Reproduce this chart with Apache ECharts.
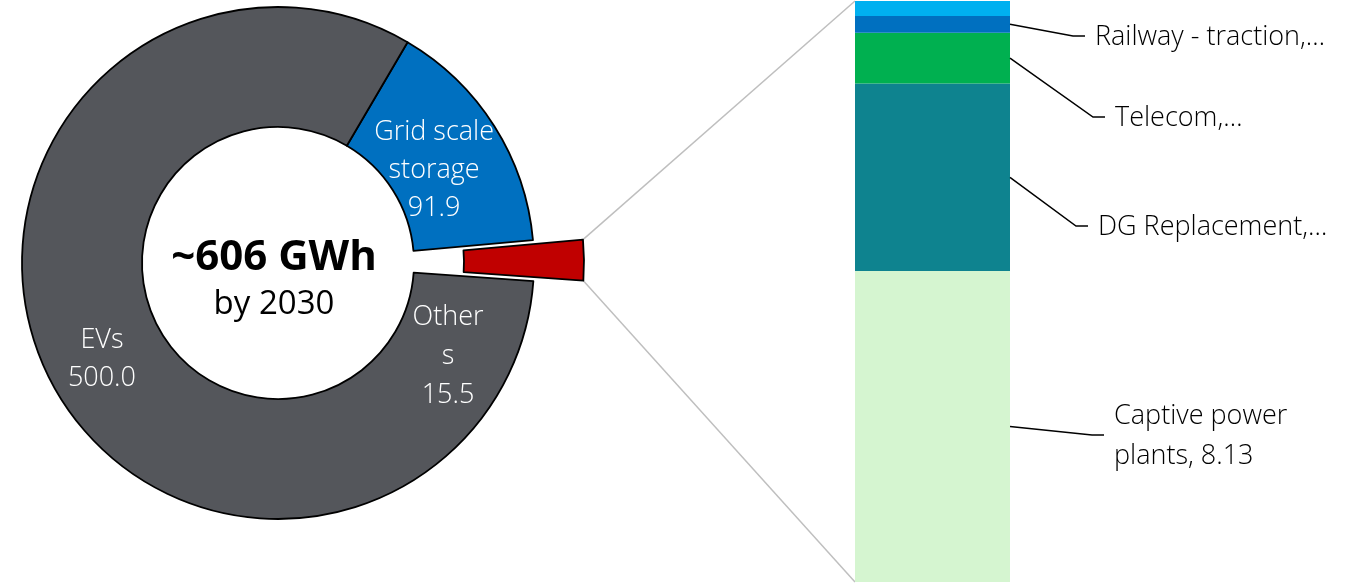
<!DOCTYPE html>
<html>
<head>
<meta charset="utf-8">
<script src="https://cdn.jsdelivr.net/npm/echarts@6/dist/echarts.min.js"></script>
<style>
  html, body { margin: 0; padding: 0; background: #fff; }
  #main { width: 1368px; height: 584px; }
</style>
</head>
<body>
<div id="main"></div>
<script>
// pie: battery demand by 2030 (GWh)
var pieNames = ['Grid scale storage', 'Others', 'EVs'];
var pieLabels = ['Grid scale\nstorage', 'Other\ns', 'EVs'];
var pieValues = [91.9, 15.5, 500.0];
var pieColors = ['#0070C0', '#C00000', '#54565B'];

// bar: breakdown of "Others", listed bottom to top of the stack
var barNames = ['Captive power plants', 'DG Replacement', 'Telecom', 'Railway - traction', 'Other'];
var barLabels = ['Captive power\nplants, 8.13', 'DG Replacement,\u2026', 'Telecom,\u2026', 'Railway - traction,\u2026', ''];
var barValues = [8.13, 4.90, 1.33, 0.44, 0.39];
var barColors = ['#D5F5D0', '#0E838F', '#00B050', '#0070C0', '#00B0F0'];

var FONT = '"Open Sans", "Noto Sans", sans-serif';
var cx = 278, cy = 263, r0 = 136, r1 = 256;
var startFromTop = 30.4;   // degrees clockwise from 12 o'clock
var pullOut = 50;
var gridLeft = 855, gridRight = 358, gridTop = 1, gridBottom = 2;

// label spots next to the bar: [offset from bar right edge, y]
var labelSpots = [[104, 436], [88, 227], [105, 118], [85, 37]];

var chart = echarts.init(document.getElementById('main'));

var pieData = pieNames.map(function (n, i) {
  return {
    name: n,
    value: pieValues[i],
    selected: i === 1,
    label: { show: i !== 1 },
    itemStyle: { color: pieColors[i] },
    select: { itemStyle: { color: pieColors[i], borderColor: '#000', borderWidth: 1.8 } }
  };
});

var barSeries = barNames.map(function (n, i) {
  return {
    name: n,
    type: 'bar',
    stack: 'others',
    barWidth: '100%',
    data: [barValues[i]],
    itemStyle: { color: barColors[i] },
    label: {
      show: barLabels[i] !== '',
      position: 'right',
      formatter: barLabels[i],
      color: '#000',
      fontFamily: FONT,
      fontWeight: 300,
      fontSize: 27,
      lineHeight: 40
    },
    labelLayout: function (p) {
      var s = labelSpots[p.seriesIndex - 1];
      if (!s) return {};
      return { x: p.rect.x + p.rect.width + s[0], y: s[1], align: 'left', verticalAlign: 'middle' };
    },
    emphasis: { disabled: true },
    silent: true
  };
});

chart.setOption({
  animation: false,
  grid: { left: gridLeft, right: gridRight, top: gridTop, bottom: gridBottom },
  xAxis: { type: 'category', data: ['Others'], show: false },
  yAxis: { type: 'value', min: 0, max: 'dataMax', show: false },
  series: [{
    type: 'pie',
    center: [cx, cy],
    radius: [r0, r1],
    startAngle: 90 - startFromTop,
    clockwise: true,
    selectedMode: 'single',
    selectedOffset: pullOut,
    silent: true,
    emphasis: { disabled: true },
    itemStyle: { borderColor: '#000', borderWidth: 1.8 },
    label: {
      show: true,
      position: 'inside',
      formatter: function (p) { return pieLabels[p.dataIndex] + '\n' + p.value.toFixed(1); },
      color: '#fff',
      fontFamily: FONT,
      fontWeight: 300,
      fontSize: 27,
      lineHeight: 38
    },
    labelLine: { show: false },
    labelLayout: function (p) {
      if (p.dataIndex === 0) return { dx: -6, dy: 7 };
      if (p.dataIndex === 2) return { dx: 0, dy: 2 };
      return {};
    },
    data: pieData
  }].concat(barSeries)
});

// connector lines, label leader lines and centre text
(function () {
  var total = pieValues.reduce(function (a, b) { return a + b; }, 0);
  var a0 = startFromTop + pieValues[0] / total * 360;
  var a1 = a0 + pieValues[1] / total * 360;
  var mid = (a0 + a1) / 2 * Math.PI / 180;
  var scx = cx + pullOut * Math.sin(mid), scy = cy - pullOut * Math.cos(mid);
  function pt(a) { a = a * Math.PI / 180; return [scx + r1 * Math.sin(a), scy - r1 * Math.cos(a)]; }
  var p0 = pt(a0), p1 = pt(a1);

  var stackTotal = barValues.reduce(function (a, b) { return a + b; }, 0);
  var top = chart.convertToPixel({ xAxisIndex: 0, yAxisIndex: 0 }, [0, stackTotal]);
  var bot = chart.convertToPixel({ xAxisIndex: 0, yAxisIndex: 0 }, [0, 0]);
  var barRight = 1368 - gridRight;

  var ls = { stroke: '#BFBFBF', lineWidth: 1.5 };
  var g = [
    { type: 'line', z: -1, shape: { x1: p0[0], y1: p0[1], x2: gridLeft, y2: top[1] }, style: ls, silent: true },
    { type: 'line', z: -1, shape: { x1: p1[0], y1: p1[1], x2: gridLeft, y2: bot[1] }, style: ls, silent: true },
    { type: 'text', z: 100, x: cx - 4, y: cy - 5, style: { text: '~606 GWh', font: 'bold 42px ' + FONT, fill: '#000', align: 'center', verticalAlign: 'middle' }, silent: true },
    { type: 'text', z: 100, x: cx - 4, y: cy + 42, style: { text: 'by 2030', font: '33px ' + FONT, fill: '#000', align: 'center', verticalAlign: 'middle' }, silent: true },
    { type: 'text', z: 100, x: cx + 170, y: cy + 93, silent: true,
      style: { text: pieLabels[1] + '\n' + pieValues[1].toFixed(1), fontFamily: FONT, fontWeight: 300, fontSize: 27, lineHeight: 39,
               fill: '#fff', align: 'center', verticalAlign: 'middle' } }
  ];

  var cum = 0;
  for (var i = 0; i < barValues.length; i++) {
    var midPx = chart.convertToPixel({ xAxisIndex: 0, yAxisIndex: 0 }, [0, cum + barValues[i] / 2]);
    cum += barValues[i];
    var s = labelSpots[i];
    if (!s) continue;
    var lx = barRight + s[0], ly = s[1] - 1;
    g.push({ type: 'polyline', z: 100, silent: true,
      shape: { points: [[barRight, midPx[1]], [lx - 22, ly], [lx - 10, ly]] },
      style: { stroke: '#000', lineWidth: 1.5, fill: null } });
  }
  chart.setOption({ graphic: g });
})();
</script>
</body>
</html>
